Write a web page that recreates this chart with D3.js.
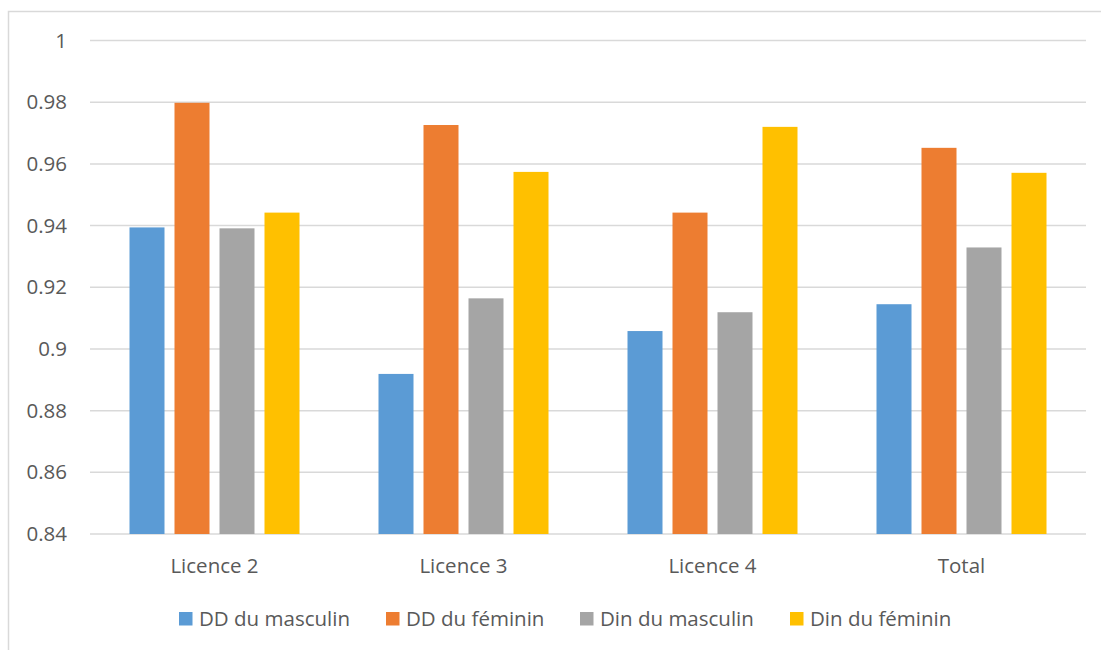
<!DOCTYPE html>
<html>
<head>
<meta charset="utf-8">
<script src="https://cdn.jsdelivr.net/npm/d3@7"></script>
<style>
  html, body { margin: 0; padding: 0; background: #fff; }
  svg { display: block; font-family: "Open Sans", "Noto Sans", sans-serif; }
</style>
</head>
<body>
<svg id="chart" width="1101" height="650"></svg>
<script>
const categories = ["Licence 2", "Licence 3", "Licence 4", "Total"];
const seriesNames = ["DD du masculin", "DD du féminin", "Din du masculin", "Din du féminin"];
const seriesColors = ["#5B9BD5", "#ED7D31", "#A5A5A5", "#FFC000"];
const ddMasculin = [0.9394, 0.8919, 0.9058, 0.9145];
const ddFeminin = [0.9798, 0.9726, 0.9442, 0.9652];
const dinMasculin = [0.9391, 0.9164, 0.9119, 0.9329];
const dinFeminin = [0.9442, 0.9574, 0.9720, 0.9571];
const yTicks = [0.84, 0.86, 0.88, 0.9, 0.92, 0.94, 0.96, 0.98, 1];

const seriesValues = [ddMasculin, ddFeminin, dinMasculin, dinFeminin];
const FS = "20.5px";

const svg = d3.select("#chart");

// outer chart border
svg.append("rect")
  .attr("x", 8.5).attr("y", 11.5)
  .attr("width", 1110).attr("height", 660)
  .attr("fill", "none").attr("stroke", "#d9d9d9").attr("stroke-width", 1.5);

const plotL = 90, plotR = 1086, plotT = 40.5, plotB = 534;

const x = d3.scaleBand().domain(categories).range([plotL, plotR]).paddingInner(0).paddingOuter(0);
const xs = d3.scaleBand().domain(d3.range(seriesNames.length))
  .range([0, x.bandwidth()]).paddingInner(10 / 45).paddingOuter(0.8778);
const y = d3.scaleLinear().domain([0.84, 1]).range([plotB, plotT]);

// gridlines
svg.append("g").selectAll("line").data(yTicks).join("line")
  .attr("x1", plotL).attr("x2", plotR)
  .attr("y1", d => y(d)).attr("y2", d => y(d))
  .attr("stroke", "#d9d9d9").attr("stroke-width", 1.5);

// y axis labels
const yAxis = d3.axisLeft(y).tickValues(yTicks).tickSize(0).tickPadding(0)
  .tickFormat(d => String(+d.toFixed(2)));
const ya = svg.append("g").attr("transform", `translate(67,0)`).call(yAxis);
ya.select(".domain").remove();
ya.selectAll("text").attr("fill", "#595959").style("font-size", FS)
  .style("font-family", "\"Open Sans\", sans-serif");

// bars
const groups = svg.append("g").selectAll("g").data(categories).join("g")
  .attr("transform", d => `translate(${x(d)},0)`);
groups.selectAll("rect").data((c, ci) => seriesValues.map((vals, si) => ({ si, v: vals[ci] })))
  .join("rect")
  .attr("x", d => xs(d.si))
  .attr("width", xs.bandwidth())
  .attr("y", d => y(d.v))
  .attr("height", d => y(0.84) - y(d.v))
  .attr("fill", d => seriesColors[d.si]);

// x axis labels
const xAxis = d3.axisBottom(x).tickSize(0).tickPadding(0);
const xa = svg.append("g").attr("transform", `translate(0,${plotB + 24})`).call(xAxis);
xa.select(".domain").remove();
xa.selectAll("text").attr("fill", "#595959").style("font-size", FS)
  .style("font-family", "\"Open Sans\", sans-serif").attr("dy", "0.72em");

// legend
const legendX = [179, 386, 580, 790];
const lg = svg.append("g").selectAll("g").data(seriesNames).join("g")
  .attr("transform", (d, i) => `translate(${legendX[i]},612)`);
lg.append("rect").attr("width", 13.5).attr("height", 13.5).attr("fill", (d, i) => seriesColors[i]);
lg.append("text").attr("x", 20).attr("y", 7).attr("dy", "0.35em")
  .attr("fill", "#595959").style("font-size", FS).text(d => d);
</script>
</body>
</html>
